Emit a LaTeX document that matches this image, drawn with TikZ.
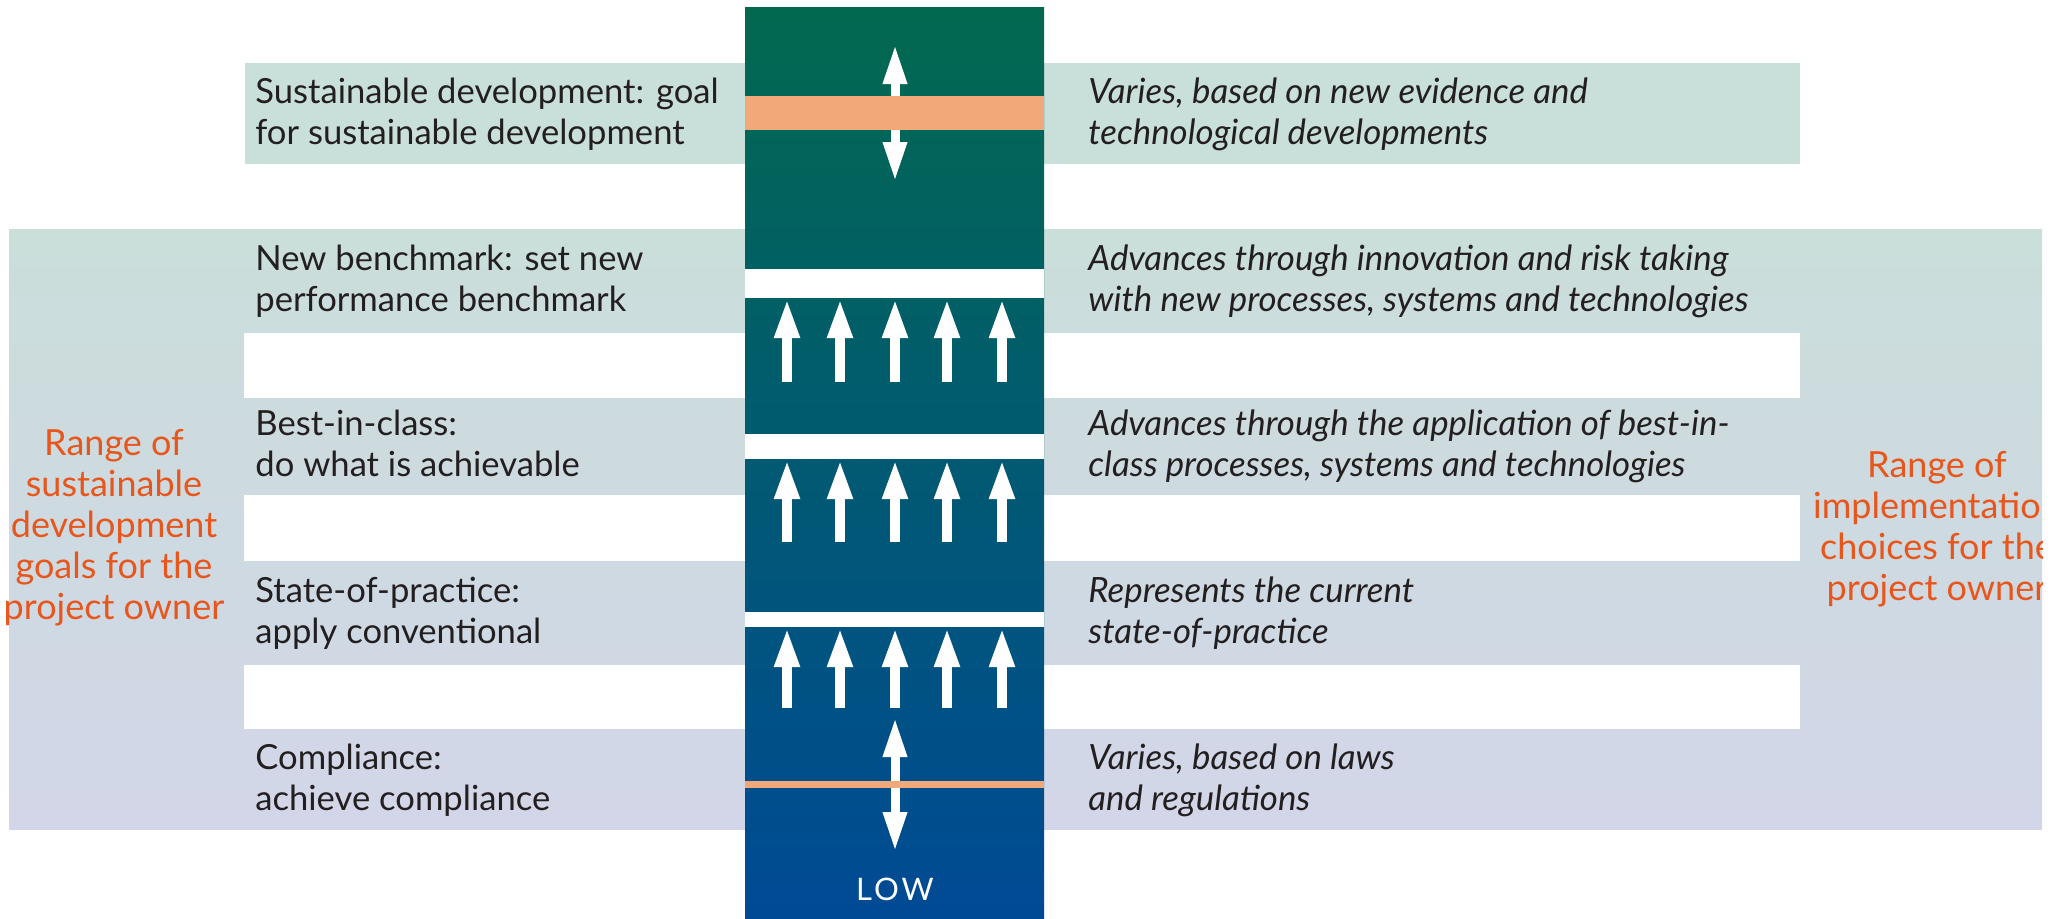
\documentclass[tikz,border=0pt]{standalone}
\usepackage{fontspec}
\setmainfont{Lato}
\usetikzlibrary{arrows.meta}

\definecolor{inkc}{HTML}{231F20}
\definecolor{toprow}{HTML}{C9DFD9}
\definecolor{bandtop}{HTML}{CADEDA}
\definecolor{bandbot}{HTML}{D2D6E8}
\definecolor{coltop}{HTML}{02694F}
\definecolor{colmid}{HTML}{016478}
\definecolor{colbot}{HTML}{004A95}
\definecolor{ochre}{HTML}{F1A979}
\definecolor{rangec}{HTML}{E8561C}

\newcommand{\lines}[2]{\begin{tabular}[t]{@{}#1@{}}#2\end{tabular}}

\tikzset{
  levelfont/.style={font=\fontsize{17.3}{20.5}\selectfont, text=inkc},
  leftlabel/.style={levelfont, anchor=base west, inner sep=0pt},
  rightlabel/.style={font=\fontsize{17.4}{20.5}\selectfont\itshape, text=inkc, anchor=base west, inner sep=0pt},
  rangelabel/.style={font=\fontsize{18}{20.5}\selectfont, text=rangec, anchor=base, inner sep=0pt},
  uparrow/.style={draw=white, line width=5pt, -{Triangle[length=20pt,width=11.5pt]}},
  twoway/.style={draw=white, line width=4.5pt, {Triangle[length=20pt,width=11pt]}-{Triangle[length=20pt,width=11pt]}}
}

\begin{document}
\begin{tikzpicture}[x=0.5pt,y=-0.5pt]
\useasboundingbox (0,0) rectangle (2053,918);

% background bands
\fill[toprow] (245,63) rectangle (1800,164);
\shade[top color=bandtop, bottom color=bandbot] (9,229) rectangle (2042,829);
\foreach \ya/\yb in {333/398, 495/561, 665/729}
  \fill[white] (244,\ya) rectangle (1800,\yb);

% central column with its gaps
\shade[top color=coltop, middle color=colmid, bottom color=colbot] (745,7) rectangle (1044,918);
\foreach \ya/\yb in {269/298, 434/459, 612/627}
  \fill[white] (745,\ya) rectangle (1044,\yb);

% upward arrows in the three blocks
\foreach \r/\tip/\foot in {1/298/382, 2/459/542, 3/627/708}
  \foreach \c/\x in {1/787, 2/840, 3/895, 4/947, 5/1002} {
    \coordinate (up\r\c foot) at (\x,\foot);
    \coordinate (up\r\c tip) at (\x,\tip);
    \draw[uparrow] (up\r\c foot) -- (up\r\c tip);
  }

% two-way arrows and their orange markers
\coordinate (goalhi) at (895,44);
\coordinate (goallo) at (895,182);
\draw[twoway] (goalhi) -- (goallo);
\fill[ochre] (745,96) rectangle (1044,130);

\coordinate (comphi) at (895,717);
\coordinate (complo) at (895,852);
\draw[twoway] (comphi) -- (complo);
\fill[ochre] (745,781) rectangle (1044,788);

\node[font=\fontsize{15.5}{17}\selectfont\addfontfeature{LetterSpace=10}, text=white, anchor=base] (low) at (895,900) {LOW};

% level names
\node[leftlabel] (sd)  at (255,103) {\lines{l}{Sustainable development: goal\\for sustainable development}};
\node[leftlabel] (nb)  at (255,270) {\lines{l}{New benchmark: set new\\performance benchmark}};
\node[leftlabel] (bic) at (255,435) {\lines{l}{Best-in-class:\\do what is achievable}};
\node[leftlabel] (sop) at (255,602) {\lines{l}{State-of-practice:\\apply conventional}};
\node[leftlabel] (cmp) at (255,769) {\lines{l}{Compliance:\\achieve compliance}};

% level descriptions
\node[rightlabel] (sdr)  at (1088,103) {\lines{l}{Varies, based on new evidence and\\technological developments}};
\node[rightlabel] (nbr)  at (1088,270) {\lines{l}{Advances through innovation and risk taking\\with new processes, systems and technologies}};
\node[rightlabel] (bicr) at (1088,435) {\lines{l}{Advances through the application of best-in-\\class processes, systems and technologies}};
\node[rightlabel] (sopr) at (1088,602) {\lines{l}{Represents the current\\state-of-practice}};
\node[rightlabel] (cmpr) at (1088,769) {\lines{l}{Varies, based on laws\\and regulations}};

% range captions
\node[rangelabel] (goals) at (114,455) {\lines{c}{Range of\\sustainable\\development\\goals for the\\project owner}};
\begin{scope}
  \clip (9,229) rectangle (2042,829);
  \node[rangelabel] (choices) at (1937,477) {\lines{c}{Range of\\implementation\\choices for the\\project owner}};
\end{scope}
\end{tikzpicture}
\end{document}
